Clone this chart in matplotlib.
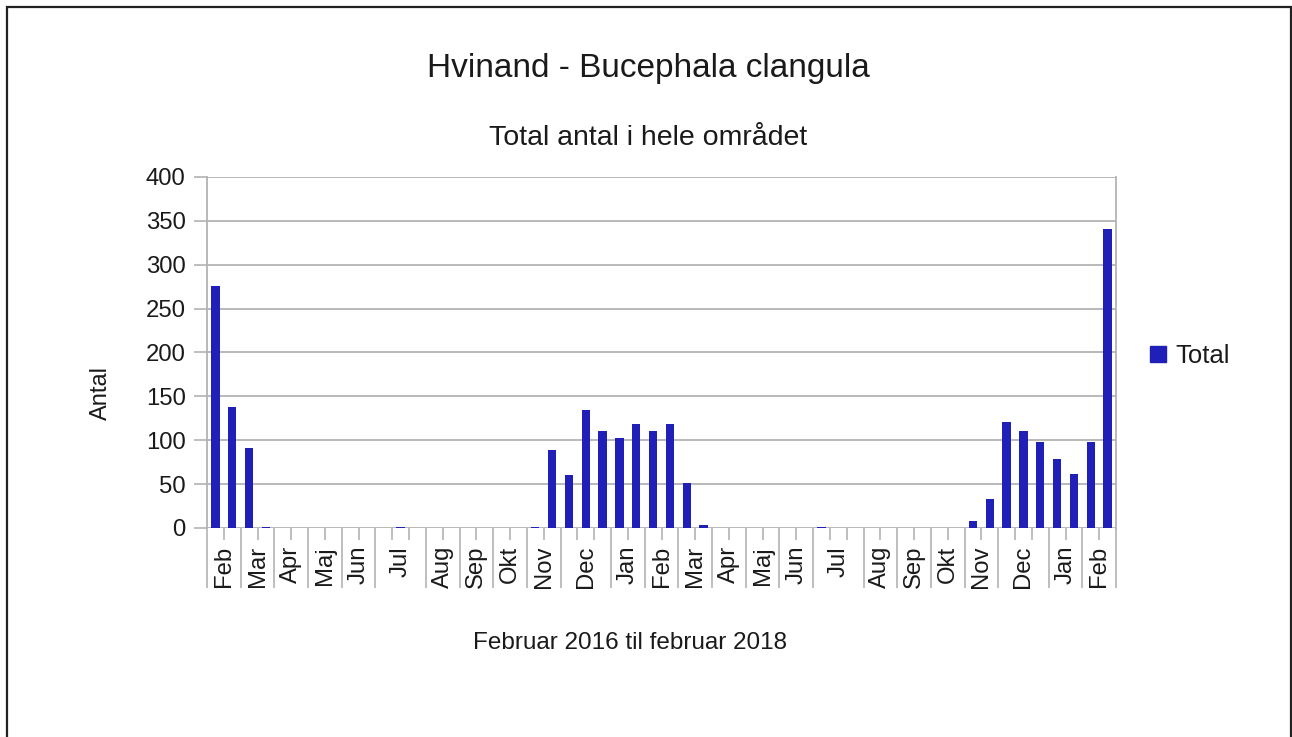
import matplotlib
matplotlib.use("Agg")
import matplotlib.pyplot as plt
from matplotlib.patches import Rectangle, Patch
import numpy as np

plt.rcParams['font.family'] = ['Liberation Sans', 'DejaVu Sans']

# One entry per count (category); consecutive equal month names form one label group
months = (["Feb"] * 2 + ["Mar"] * 2 + ["Apr"] * 2 + ["Maj"] * 2 + ["Jun"] * 2 + ["Jul"] * 3 +
          ["Aug"] * 2 + ["Sep"] * 2 + ["Okt"] * 2 + ["Nov"] * 2 + ["Dec"] * 3 + ["Jan"] * 2 +
          ["Feb"] * 2 + ["Mar"] * 2 + ["Apr"] * 2 + ["Maj"] * 2 + ["Jun"] * 2 + ["Jul"] * 3 +
          ["Aug"] * 2 + ["Sep"] * 2 + ["Okt"] * 2 + ["Nov"] * 2 + ["Dec"] * 3 + ["Jan"] * 2 +
          ["Feb"] * 2)

total = [276, 138, 91, 1, 0, 0, 0, 0, 0, 0,
         0, 0.7, 0, 0, 0, 0, 0, 0, 0, 1,
         89, 60, 135, 110, 102, 118, 110, 118, 51, 3,
         0, 0, 0, 0, 0, 0, 0.7, 0, 0, 0,
         0, 0, 0, 0, 0, 8, 33, 121, 111, 98,
         79, 62, 98, 341]

series_name = "Total"
title = "Hvinand - Bucephala clangula"
subtitle = "Total antal i hele området"
xlabel = "Februar 2016 til februar 2018"
ylabel = "Antal"
yticks = [0, 50, 100, 150, 200, 250, 300, 350, 400]

W, H = 1292, 737
fig = plt.figure(figsize=(W / 100, H / 100), dpi=100)
ax = fig.add_axes([207 / W, 1 - 528 / H, (1116 - 207) / W, (528 - 177) / H])

bar_color = '#2020b8'
grid_color = '#b3b3b3'
text_color = '#1a1a1a'

n = len(total)
x = np.arange(n) + 0.5
ax.bar(x, total, width=0.5, color=bar_color, zorder=3, label=series_name)

ax.set_xlim(0, n)
ax.set_ylim(0, 400)
ax.set_yticks(yticks)
ax.yaxis.grid(True, color=grid_color, linewidth=1.3, zorder=0)
ax.tick_params(axis='y', length=9.4, width=1.2, color=grid_color, labelsize=17.2,
               pad=6, labelcolor=text_color)

for s in ['top', 'bottom']:
    ax.spines[s].set_visible(False)
for s in ['left', 'right']:
    ax.spines[s].set_color(grid_color)
    ax.spines[s].set_linewidth(1.3)

# group boundaries
bounds = [0]
for i in range(1, n):
    if months[i] != months[i - 1]:
        bounds.append(i)
bounds.append(n)

ax.set_xticks(bounds)
ax.set_xticks(np.arange(n + 1), minor=True)
ax.tick_params(axis='x', which='major', length=43, width=1.2, color=grid_color, labelbottom=False)
ax.tick_params(axis='x', which='minor', length=8.6, width=1.2, color=grid_color, labelbottom=False)

trans = ax.get_xaxis_transform()
for a, b in zip(bounds[:-1], bounds[1:]):
    ax.text((a + b) / 2, -18 / 351, months[a], rotation=90, ha='center', va='top',
            fontsize=17.2, color=text_color, transform=trans)

fig.text(648.5 / W, 1 - 68 / H, title, ha='center', va='center', fontsize=24, color=text_color)
fig.text(648.5 / W, 1 - 138 / H, subtitle, ha='center', va='center', fontsize=20.5, color=text_color)
fig.text(630 / W, 1 - 643 / H, xlabel, ha='center', va='center', fontsize=17.5, color=text_color)
fig.text(101 / W, 1 - 393 / H, ylabel, ha='center', va='center', rotation=90, fontsize=17, color=text_color)

handles = [Patch(facecolor=bar_color, edgecolor=bar_color)]
fig.legend(handles, [series_name], loc='center left', bbox_to_anchor=(1150 / W, 1 - 356 / H),
           frameon=False, fontsize=18.5, handlelength=0.62, handleheight=0.62, handletextpad=0.35,
           borderpad=0, borderaxespad=0, labelcolor=text_color)

fig.patches.append(Rectangle((6.5 / W, -0.1), (1290.5 - 6.5) / W, 1.1 - 7.5 / H,
                             transform=fig.transFigure, fill=False, edgecolor='#222222',
                             linewidth=1.6))

fig.savefig("out.png", dpi=100, facecolor='white')
